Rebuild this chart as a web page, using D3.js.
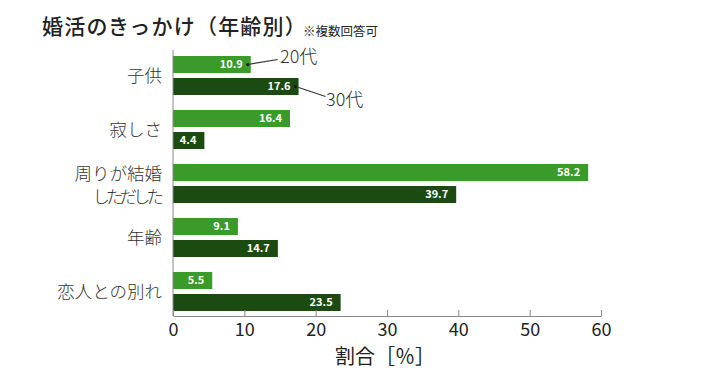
<!DOCTYPE html>
<html>
<head>
<meta charset="utf-8">
<script src="https://cdn.jsdelivr.net/npm/d3@7"></script>
<style>
  body { margin: 0; background: #fff; }
  svg { display: block; font-family: "Noto Sans CJK JP", "Noto Sans", sans-serif; }
</style>
</head>
<body>
<svg id="chart" width="724" height="378"></svg>
<script>
// data //
const categories = ['子供', '寂しさ', '周りが結婚\nしただした', '年齢', '恋人との別れ']
const seriesNames = ['20代', '30代']
const values20 = [10.9, 16.4, 58.2, 9.1, 5.5]
const values30 = [17.6, 4.4, 39.7, 14.7, 23.5]
const xTicks = [0, 10, 20, 30, 40, 50, 60]

const colors = { '20代': '#3a9b2b', '30代': '#1b4b10' }

const rows = categories.map((c, i) => ({ cat: c, '20代': values20[i], '30代': values30[i] }))

const svg = d3.select('#chart')

// scales //
const x = d3.scaleLinear().domain([0, 60]).range([173, 601])

const y = d3.scaleBand()
    .domain(categories)
    .range([56, 311])
    .paddingInner(15 / 54)
    .paddingOuter(0)

const ySub = d3.scaleBand()
    .domain(seriesNames)
    .range([0, y.bandwidth()])
    .paddingInner(5 / 22)

// title //
svg.append('text')
    .attr('x', 42).attr('y', 34)
    .attr('font-size', 21).attr('font-weight', 500)
    .attr('letter-spacing', 1.2)
    .attr('fill', '#222')
    .text('婚活のきっかけ（年齢別）')
svg.append('text')
    .attr('x', 303).attr('y', 36)
    .attr('font-size', 12.5)
    .attr('fill', '#222')
    .text('※複数回答可')

// bars //
const groups = svg.append('g').selectAll('g')
    .data(rows)
    .join('g')
    .attr('transform', d => `translate(0, ${y(d.cat)})`)

groups.selectAll('rect')
    .data(d => seriesNames.map(s => ({ s, v: d[s] })))
    .join('rect')
    .attr('x', x(0))
    .attr('y', d => ySub(d.s))
    .attr('width', d => x(d.v) - x(0))
    .attr('height', ySub.bandwidth())
    .attr('fill', d => colors[d.s])

groups.selectAll('text.val')
    .data(d => seriesNames.map(s => ({ s, v: d[s] })))
    .join('text')
    .attr('class', 'val')
    .attr('x', d => x(d.v) - 8)
    .attr('y', d => ySub(d.s) + ySub.bandwidth() / 2)
    .attr('dy', '0.36em')
    .attr('text-anchor', 'end')
    .attr('font-size', 11).attr('font-weight', 700)
    .attr('fill', '#fff')
    .text(d => d.v.toFixed(1))

// category labels (one text per line, second line set tighter) //
groups.each(function (d) {
    const lines = d.cat.split('\n')
    const mid = y.bandwidth() / 2 + (lines.length > 1 ? 1.5 : 0)
    const lh = 23
    lines.forEach((t, i) => {
        d3.select(this).append('text')
            .attr('x', i > 0 ? 160 : 162)
            .attr('y', mid + (i - (lines.length - 1) / 2) * lh)
            .attr('dy', '0.35em')
            .attr('text-anchor', 'end')
            .attr('font-size', 17.5)
            .attr('font-weight', 300)
            .attr('letter-spacing', i > 0 ? -4 : 0)
            .attr('fill', '#333')
            .text(t)
    })
})

// x axis //
const xAxis = d3.axisBottom(x).tickValues(xTicks).tickSize(0).tickPadding(0)
const gx = svg.append('g')
    .attr('transform', 'translate(0, 316)')
    .call(xAxis)
gx.select('.domain').attr('stroke', '#888')
gx.selectAll('.tick line').remove()
gx.selectAll('.tick').append('line')
    .attr('y1', 0).attr('y2', -6)
    .attr('stroke', '#888')
gx.selectAll('.tick text')
    .attr('y', 20)
    .attr('dy', 0)
    .attr('font-size', 18)
    .attr('font-family', '"Noto Sans CJK JP", sans-serif')
    .attr('fill', '#222')

// y axis line //
svg.append('line')
    .attr('x1', x(0)).attr('x2', x(0))
    .attr('y1', 50).attr('y2', 316)
    .attr('stroke', '#888')

// axis title //
svg.append('text')
    .attr('x', (x(0) + x(60)) / 2 - 2).attr('y', 364)
    .attr('text-anchor', 'middle')
    .attr('font-size', 20)
    .attr('fill', '#222')
    .text('割合［％］')

// series annotations //
const first = rows[0]
const notes = [
    { s: '20代', dx: 30, dy: -5, tx: 280, ty: 57 },
    { s: '30代', dx: 30, dy: 10, tx: 326, ty: 100 }
]
notes.forEach(n => {
    const px = x(first[n.s]) - 3
    const py = y(first.cat) + ySub(n.s) + ySub.bandwidth() / 2
    svg.append('circle')
        .attr('cx', px).attr('cy', py).attr('r', 1.5)
        .attr('fill', '#111')
    svg.append('line')
        .attr('x1', px).attr('y1', py)
        .attr('x2', px + n.dx).attr('y2', py + n.dy)
        .attr('stroke', '#333').attr('stroke-width', 1.2)
    svg.append('text')
        .attr('x', n.tx).attr('y', n.ty)
        .attr('dy', '0.36em')
        .attr('font-size', 18)
        .attr('font-weight', 300)
        .attr('fill', '#333')
        .text(n.s)
})
</script>
</body>
</html>
